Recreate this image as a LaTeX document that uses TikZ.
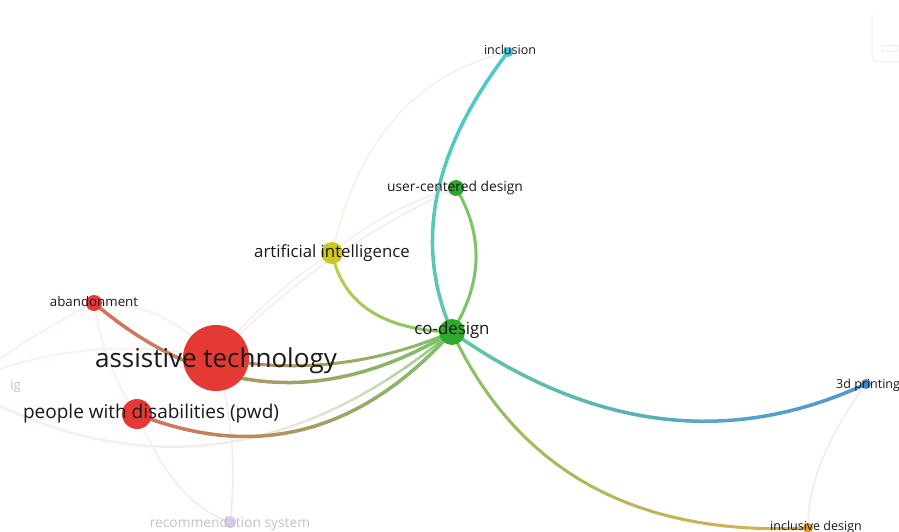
\documentclass[tikz,border=0pt]{standalone}
\usepackage{fontspec}
\setmainfont{Open Sans}
\usetikzlibrary{calc,backgrounds}

\definecolor{nred}{RGB}{229,57,53}
\definecolor{ngreen}{RGB}{46,168,46}
\definecolor{nyellow}{RGB}{205,200,30}
\definecolor{ncyan}{RGB}{70,195,215}
\definecolor{nblue}{RGB}{66,135,205}
\definecolor{norange}{RGB}{225,155,45}
\definecolor{nlav}{RGB}{222,205,238}
\definecolor{eGreen}{RGB}{125,196,105}
\definecolor{eTeal}{RGB}{95,200,165}
\definecolor{eCyan}{RGB}{75,200,210}
\definecolor{eRed}{RGB}{214,112,92}
\definecolor{eYel}{RGB}{200,205,70}
\definecolor{eBlue}{RGB}{80,148,212}
\definecolor{eOr}{RGB}{226,172,75}
\definecolor{fPink}{RGB}{251,236,237}
\definecolor{fYel}{RGB}{243,244,225}
\definecolor{fCyan}{RGB}{230,245,246}
\definecolor{fGray}{RGB}{238,238,238}
\definecolor{fLav}{RGB}{240,232,244}
\definecolor{labc}{RGB}{25,25,25}
\definecolor{fadec}{RGB}{195,195,195}

% gradient quadratic edge: from, to, control, colour at start, colour at end, width, exponent
\newcommand\gedge[7]{%
  \foreach \i in {0,...,29}{%
    \pgfmathsetmacro\ta{\i/30}%
    \pgfmathsetmacro\tb{(\i+1)/30}%
    \pgfmathsetmacro\pc{100-100*((\i+0.5)/30)^#7}%
    \path ($(#1)!\ta!(#3)$) coordinate (qa1) ($(#3)!\ta!(#2)$) coordinate (qa2)
          ($(#1)!\tb!(#3)$) coordinate (qb1) ($(#3)!\tb!(#2)$) coordinate (qb2);
    \draw[line width=#6, line cap=round, color=#4!\pc!#5]
      ($(qa1)!\ta!(qa2)$) -- ($(qb1)!\tb!(qb2)$);
  }}

\begin{document}
\begin{tikzpicture}[x=1pt,y=-1pt,
  dot/.style={circle, inner sep=0pt, draw=none},
  lbl/.style={text=labc, inner sep=0pt}]
\useasboundingbox (0,0) rectangle (899,532);

% ---- nodes (circles)
\node[dot, fill=nred, minimum size=66pt] (at) at (216,358) {};
\node[dot, fill=nred, minimum size=30pt] (pwd) at (137,414) {};
\node[dot, fill=nred, minimum size=16pt] (ab) at (94,303) {};
\node[dot, fill=ngreen, minimum size=26pt] (cod) at (452,332) {};
\node[dot, fill=nyellow, minimum size=22pt] (ai) at (332,253) {};
\node[dot, fill=ngreen, minimum size=16pt] (ucd) at (456,188) {};
\node[dot, fill=ncyan, minimum size=10pt] (inc) at (508,52) {};
\node[dot, fill=nblue, minimum size=10pt] (tdp) at (866,384) {};
\node[dot, fill=norange, minimum size=10pt] (id) at (808,528) {};
\node[dot, fill=nlav, minimum size=12pt] (rec) at (230,522) {};
\coordinate (ig) at (-40,385);

% ---- edges
\begin{pgfonlayer}{background}
\fill[white] (0,0) rectangle (899,532);
% faint edges
\gedge{ai}{inc}{370,84}{fYel}{fCyan}{1.5}{1}
\gedge{ai}{ucd}{390,205}{fYel}{fGray}{1.5}{1}
\gedge{at}{ai}{265,295}{fPink}{fYel}{1.5}{1}
\gedge{at}{ucd}{320,250}{fPink}{fGray}{1.5}{1}
\gedge{ab}{at}{160,300}{fPink}{fPink}{1.5}{1}
\gedge{ab}{pwd}{105,370}{fPink}{fPink}{1.5}{1}
\gedge{ig}{at}{80,330}{fPink}{fPink}{1.5}{1}
\gedge{ig}{ab}{40,330}{fPink}{fPink}{1.5}{1}
\gedge{rec}{pwd}{175,505}{fLav}{fPink}{1.5}{1}
\gedge{rec}{at}{240,440}{fLav}{fPink}{1.5}{1}
\gedge{tdp}{id}{807,464}{fGray}{fGray}{1.5}{1}
% strong edges
\gedge{ig}{cod}{214,531}{fPink}{eGreen}{2.5}{5}
\gedge{cod}{inc}{394,200}{eTeal}{eCyan}{3.5}{1}
\gedge{cod}{ucd}{498,259}{eGreen}{eGreen}{3}{1}
\gedge{ai}{cod}{348,329}{eYel}{eGreen}{3}{1}
\gedge{at}{cod}{334,382}{eRed}{eGreen}{3}{0.7}
\gedge{ab}{cod}{262,446}{eRed}{eGreen}{3.5}{1}
\gedge{pwd}{cod}{315,485}{eRed}{eGreen}{3.5}{1}
\gedge{cod}{tdp}{661,479}{eTeal}{eBlue}{3.5}{1}
\gedge{cod}{id}{550,541}{eGreen}{eOr}{3}{1}
\end{pgfonlayer}

% ---- interface frame at top right
\draw[fGray, line width=1pt, rounded corners=6pt] (872,15) -- (872,62) -- (910,62);
\draw[fGray, line width=1pt] (882,46) rectangle (897,52);

% ---- labels
\node[lbl, font=\fontsize{12.5}{12.5}\selectfont] (incl) at (510,50) {inclusion};
\node[lbl, font=\fontsize{13.8}{13.8}\selectfont] (ucdl) at (455,188) {user-centered design};
\node[lbl, font=\fontsize{16.8}{16.8}\selectfont] (ail) at (332,253) {artificial intelligence};
\node[lbl, font=\fontsize{16.8}{16.8}\selectfont] (codl) at (452,330) {co-design};
\node[lbl, font=\fontsize{13.3}{13.3}\selectfont] (abl) at (94,302) {abandonment};
\node[lbl, font=\fontsize{26}{26}\selectfont] (atl) at (216,361) {assistive technology};
\node[lbl, font=\fontsize{19}{19}\selectfont] (pwdl) at (151,414) {people with disabilities (pwd)};
\node[lbl, font=\fontsize{12.5}{12.5}\selectfont, anchor=west] (tdpl) at (836,385) {3d printing};
\node[lbl, font=\fontsize{12.5}{12.5}\selectfont] (idl) at (816,527) {inclusive design};
\node[lbl, text=fadec, font=\fontsize{13.8}{13.8}\selectfont] (recl) at (230,524) {recommendation system};
\node[lbl, text=fadec, font=\fontsize{13}{13}\selectfont, anchor=east] (igl) at (21,386) {ig};
\end{tikzpicture}
\end{document}
